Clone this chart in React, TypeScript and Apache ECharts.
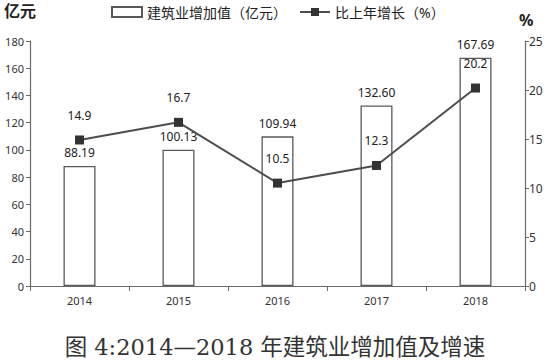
import React, { useEffect, useRef } from "react";
import * as echarts from "echarts";

const years = ["2014", "2015", "2016", "2017", "2018"];
const addedValue = [88.19, 100.13, 109.94, 132.6, 167.69];
const addedValueLabels = ["88.19", "100.13", "109.94", "132.60", "167.69"];
const growth = [14.9, 16.7, 10.5, 12.3, 20.2];

export default function App() {
  const ref = useRef<HTMLDivElement>(null);
  useEffect(() => {
    const chart = echarts.init(ref.current!, null, { renderer: "svg" });
    const font = "'Noto Sans', 'Noto Sans CJK SC', sans-serif";
    chart.setOption({
      animation: false,
      backgroundColor: "#ffffff",
      textStyle: { fontFamily: font },
      legend: {
        left: 106,
        top: 0,
        itemWidth: 30,
        itemHeight: 10,
        itemGap: 12,
        textStyle: { fontSize: 14, color: "#222", fontFamily: font },
        data: [
          { name: "建筑业增加值（亿元）", icon: "rect" },
          { name: "比上年增长（%）" },
        ],
      },
      grid: { left: 30, right: 25, top: 41, bottom: 78 },
      xAxis: {
        type: "category",
        data: years,
        axisLine: { lineStyle: { color: "#6a6a6a", width: 1.2 } },
        axisTick: { show: true, length: 5, lineStyle: { color: "#6a6a6a" } },
        axisLabel: { color: "#333", fontSize: 11, margin: 9 },
      },
      yAxis: [
        {
          type: "value",
          min: 0,
          max: 180,
          interval: 20,
          axisLine: { show: true, lineStyle: { color: "#6a6a6a", width: 1.2 } },
          axisTick: { show: true, length: 4, lineStyle: { color: "#6a6a6a" } },
          axisLabel: { color: "#333", fontSize: 11, margin: 6 },
          splitLine: { show: false },
        },
        {
          type: "value",
          min: 0,
          max: 25,
          interval: 5,
          position: "right",
          axisLine: { show: true, lineStyle: { color: "#6a6a6a", width: 1.2 } },
          axisTick: { show: true, length: 4, lineStyle: { color: "#6a6a6a" } },
          axisLabel: { color: "#333", fontSize: 12, margin: 4 },
          splitLine: { show: false },
        },
      ],
      series: [
        {
          name: "建筑业增加值（亿元）",
          type: "bar",
          data: addedValue,
          barWidth: 32,
          itemStyle: { color: "#ffffff", borderColor: "#595959", borderWidth: 1.3 },
          label: {
            show: true,
            position: "top",
            distance: 7,
            fontSize: 12,
            color: "#222",
            formatter: (p: any) => addedValueLabels[p.dataIndex],
          },
          z: 1,
        },
        {
          name: "比上年增长（%）",
          type: "line",
          yAxisIndex: 1,
          data: growth,
          symbol: "rect",
          symbolSize: 9,
          lineStyle: { color: "#4d4d4d", width: 2 },
          itemStyle: { color: "#333333" },
          label: {
            show: true,
            position: "top",
            distance: 14,
            fontSize: 12,
            color: "#222",
            formatter: (p: any) => String(p.value),
          },
          z: 3,
        },
      ],
      graphic: [
        {
          type: "text",
          left: 4,
          top: 3,
          style: { text: "亿元", fontSize: 16, fontWeight: "bold", fill: "#222", fontFamily: font },
        },
        {
          type: "text",
          left: 519,
          top: 12,
          style: { text: "%", fontSize: 16, fontWeight: "bold", fill: "#222", fontFamily: font },
        },
        {
          type: "text",
          left: "center",
          top: 336,
          style: {
            text: "图 4:2014—2018 年建筑业增加值及增速",
            fontSize: 22.5,
            fill: "#333",
            fontFamily: "'DejaVu Serif', 'Noto Sans CJK SC', serif",
          },
        },
      ],
    });
    return () => chart.dispose();
  }, []);
  return <div ref={ref} style={{ width: 550, height: 364, position: "absolute", left: 0, top: 0 }} />;
}
